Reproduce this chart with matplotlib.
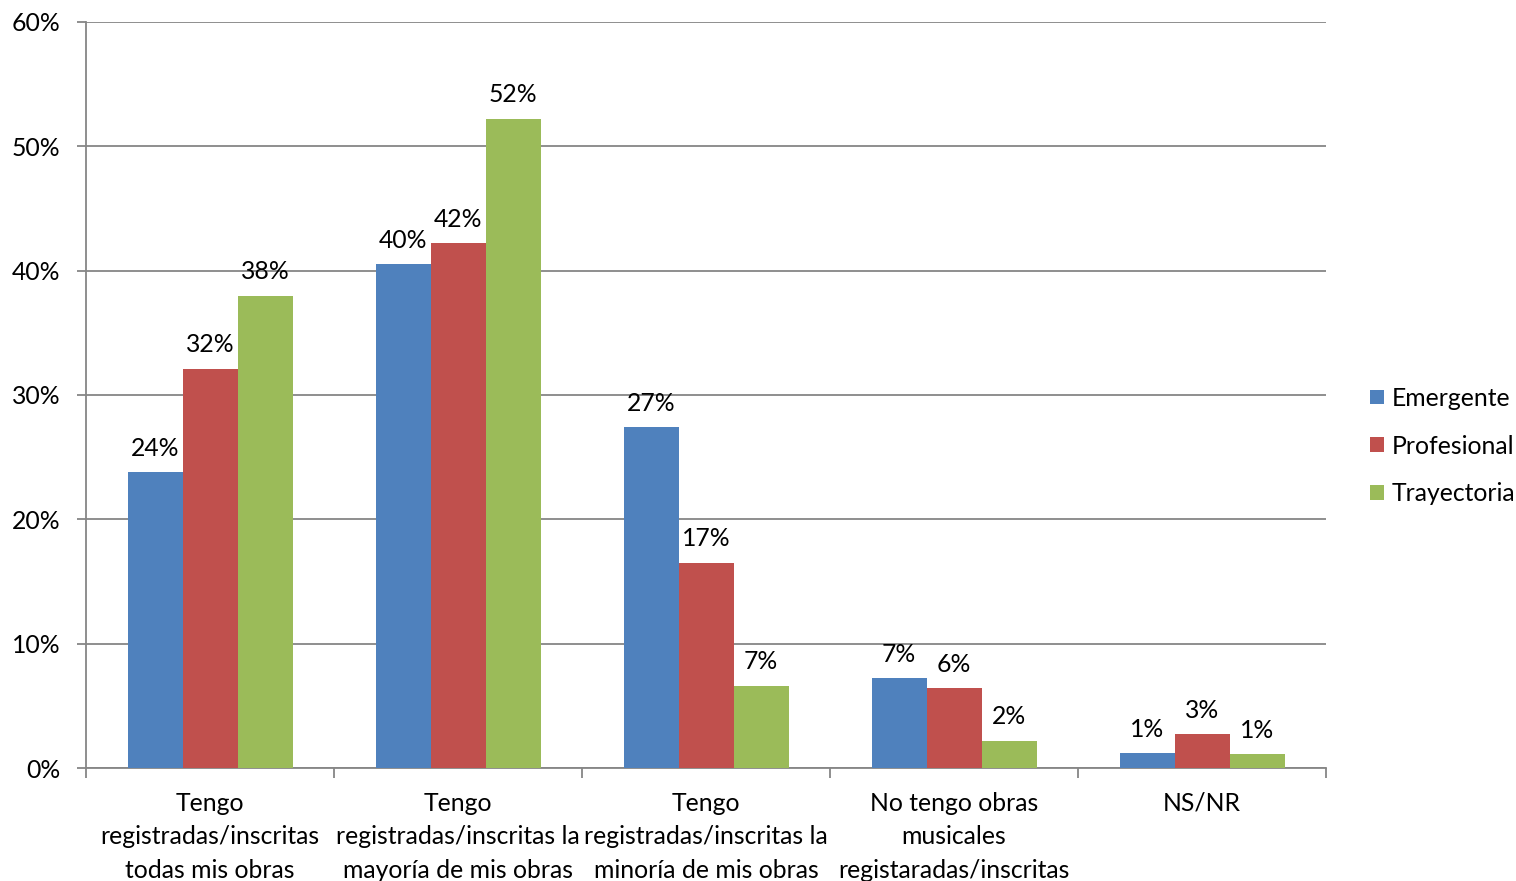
import matplotlib
matplotlib.use("Agg")
import matplotlib.pyplot as plt
import numpy as np
from matplotlib.patches import Patch

plt.rcParams['font.family'] = ['Lato', 'DejaVu Sans']

categories = [
    "Tengo\nregistradas/inscritas\ntodas mis obras",
    "Tengo\nregistradas/inscritas la\nmayoría de mis obras",
    "Tengo\nregistradas/inscritas la\nminoría de mis obras",
    "No tengo obras\nmusicales\nregistaradas/inscritas",
    "NS/NR",
]
series_names = ["Emergente", "Profesional", "Trayectoria"]
emergente = [0.238, 0.405, 0.274, 0.072, 0.012]
profesional = [0.321, 0.422, 0.165, 0.064, 0.027]
trayectoria = [0.380, 0.522, 0.066, 0.022, 0.011]
labels_emergente = ["24%", "40%", "27%", "7%", "1%"]
labels_profesional = ["32%", "42%", "17%", "6%", "3%"]
labels_trayectoria = ["38%", "52%", "7%", "2%", "1%"]
yticks = [0, 0.1, 0.2, 0.3, 0.4, 0.5, 0.6]
ytick_labels = ["0%", "10%", "20%", "30%", "40%", "50%", "60%"]

colors = ["#4F81BD", "#C0504D", "#9BBB59"]
data = [emergente, profesional, trayectoria]
labels = [labels_emergente, labels_profesional, labels_trayectoria]

W, H = 1516, 881
fig = plt.figure(figsize=(W / 100, H / 100), dpi=100)
ax = fig.add_axes([86 / W, (H - 768) / H, (1326 - 86) / W, (768 - 22) / H])

x = np.arange(len(categories))
bw = 55 / 248
fs = 17.8
for i, (vals, col, labs) in enumerate(zip(data, colors, labels)):
    pos = x + (i - 1) * bw
    ax.bar(pos, vals, width=bw, color=col, zorder=3, linewidth=0)
    for p, v, l in zip(pos, vals, labs):
        ax.annotate(l, (p, v), xytext=(0, 9), textcoords="offset points",
                    ha="center", va="bottom", fontsize=fs, color="black")

ax.set_xlim(-0.5, len(categories) - 0.5)
ax.set_ylim(0, 0.6)
ax.set_yticks(yticks)
ax.set_yticklabels(ytick_labels, fontsize=fs)
ax.yaxis.grid(True, color="#868686", linewidth=1.3, zorder=0)
ax.set_axisbelow(True)

ax.set_xticks(x)
ax.set_xticklabels(categories, fontsize=fs, linespacing=1.55)
ax.tick_params(axis="x", length=0, pad=17)
ax.set_xticks(np.arange(-0.5, len(categories), 1), minor=True)
ax.tick_params(axis="x", which="minor", length=7, color="#868686", width=1.3)
ax.tick_params(axis="y", length=6.5, color="#868686", width=1.3, pad=12)

for s in ["top", "right"]:
    ax.spines[s].set_visible(False)
for s in ["left", "bottom"]:
    ax.spines[s].set_color("#868686")
    ax.spines[s].set_linewidth(1.3)

handles = [Patch(facecolor=c, edgecolor="none", label=n) for c, n in zip(colors, series_names)]
fig.legend(handles=handles, loc="center left", bbox_to_anchor=(1358 / W, 1 - 446 / H),
           frameon=False, fontsize=fs, handlelength=0.55, handleheight=0.55,
           handletextpad=0.3, labelspacing=1.0, borderpad=0)

fig.savefig("out.png", dpi=100)
